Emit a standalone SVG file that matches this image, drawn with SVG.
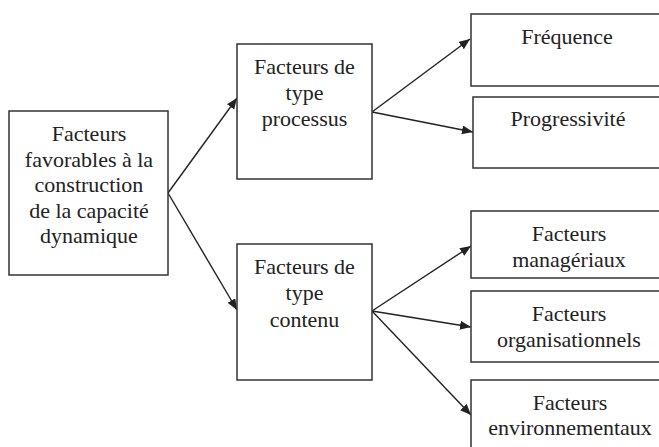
<svg xmlns="http://www.w3.org/2000/svg" width="659" height="447" viewBox="0 0 659 447">
<defs>
<style>
.box{fill:#fff;stroke:#333;stroke-width:1.5}
.t{font-family:'Liberation Serif','Times New Roman','DejaVu Serif',Times,serif;font-size:22px;fill:#222;text-anchor:middle}
.c{fill:none;stroke:#222;stroke-width:1.4}
</style>
<marker id="ah" markerUnits="userSpaceOnUse" markerWidth="12" markerHeight="10" refX="11" refY="4.5" orient="auto">
<path d="M0,0 L11,4.5 L0,9 Z" fill="#222"/>
</marker>
</defs>
<rect width="659" height="447" fill="#fff"/>
<g id="connectors">
<line class="c" x1="168" y1="193" x2="237" y2="98" marker-end="url(#ah)"/>
<line class="c" x1="168" y1="193" x2="237" y2="310" marker-end="url(#ah)"/>
<line class="c" x1="372" y1="112" x2="470" y2="39" marker-end="url(#ah)"/>
<line class="c" x1="372" y1="112" x2="473" y2="132" marker-end="url(#ah)"/>
<line class="c" x1="372" y1="311" x2="471" y2="246" marker-end="url(#ah)"/>
<line class="c" x1="372" y1="311" x2="471" y2="327" marker-end="url(#ah)"/>
<line class="c" x1="372" y1="311" x2="471" y2="415" marker-end="url(#ah)"/>
</g>
<g id="root">
<rect class="box" x="9" y="111" width="159" height="164"/>
<text class="t" font-family="Liberation Serif, serif" x="89" y="141">Facteurs</text>
<text class="t" x="89" y="166.5">favorables à la</text>
<text class="t" x="89" y="192">construction</text>
<text class="t" x="89" y="217.5">de la capacité</text>
<text class="t" x="89" y="243">dynamique</text>
</g>
<g id="processus">
<rect class="box" x="237" y="44" width="135" height="135"/>
<text class="t" x="304.5" y="74">Facteurs de</text>
<text class="t" x="304.5" y="100">type</text>
<text class="t" x="304.5" y="126">processus</text>
</g>
<g id="contenu">
<rect class="box" x="237" y="244" width="135" height="136"/>
<text class="t" x="304.5" y="274">Facteurs de</text>
<text class="t" x="304.5" y="300">type</text>
<text class="t" x="304.5" y="326.5">contenu</text>
</g>
<g id="frequence">
<rect class="box" x="471" y="14" width="200" height="72"/>
<text class="t" x="567" y="44">Fréquence</text>
</g>
<g id="progressivite">
<rect class="box" x="473" y="97" width="200" height="71"/>
<text class="t" x="568" y="126">Progressivité</text>
</g>
<g id="manageriaux">
<rect class="box" x="471" y="211" width="200" height="67"/>
<text class="t" x="569" y="241">Facteurs</text>
<text class="t" x="569" y="267">managériaux</text>
</g>
<g id="organisationnels">
<rect class="box" x="471" y="291" width="200" height="71"/>
<text class="t" x="569" y="321">Facteurs</text>
<text class="t" x="569" y="347">organisationnels</text>
</g>
<g id="environnementaux">
<rect class="box" x="471" y="380" width="200" height="80"/>
<text class="t" x="570" y="410">Facteurs</text>
<text class="t" x="570" y="435">environnementaux</text>
</g>
</svg>
